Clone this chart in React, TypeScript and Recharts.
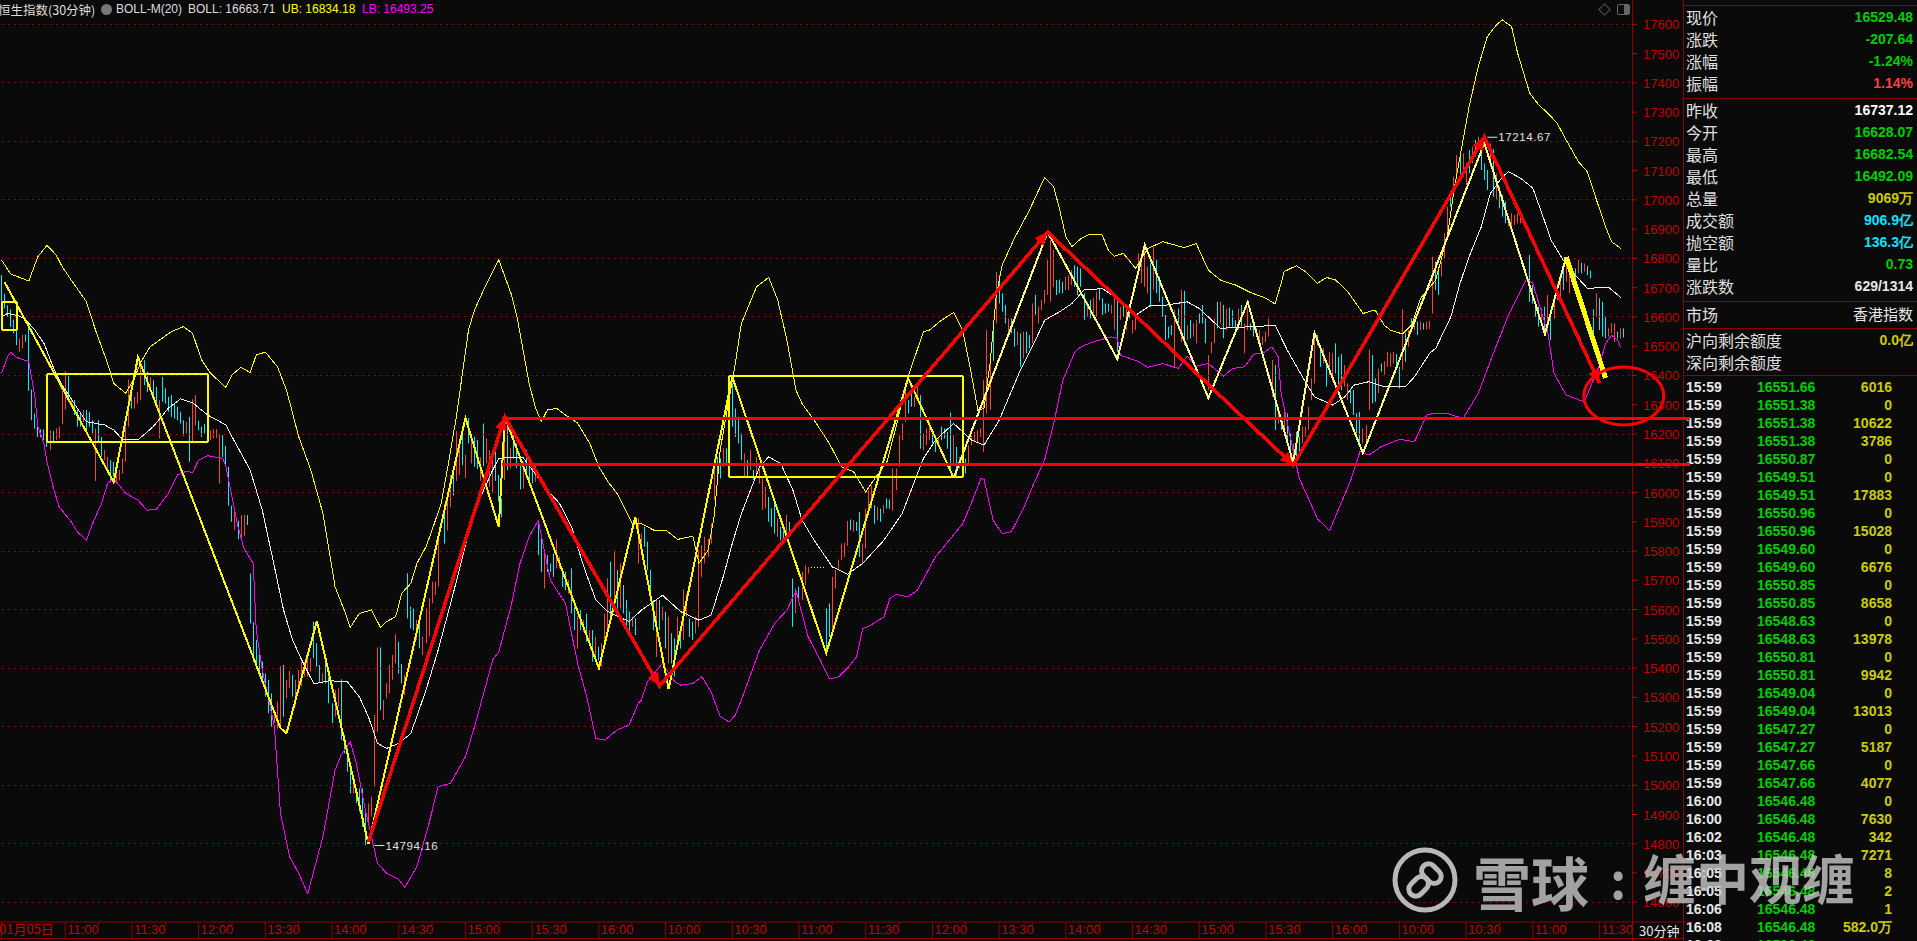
import React from 'react';
import { ComposedChart, Bar, Line, XAxis, YAxis, ReferenceLine, ReferenceDot } from 'recharts';

// candles are [high, low, dir], dir 0 = down, 1 = up, 2 = flat
const candlesA = [
  [16743,16652,0],[16680,16629,0],[16640,16601,0],[16626,16566,0],[16591,16544,0],[16572,16504,0],[16527,16481,1],[16538,16492,1],[16540,16515,0],[16583,16348,0],
  [16352,16247,0],[16270,16219,0],[16238,16190,0],[16216,16190,0],[16216,16179,0],[16196,16156,0],[16213,16145,1],[16210,16173,0],[16219,16179,1],[16225,16185,1],
  [16348,16234,1],[16415,16284,1],[16398,16310,0],[16322,16291,1],[16316,16265,0],[16284,16225,0],[16270,16225,0],[16282,16242,1],[16282,16213,0],[16276,16225,0],
  [16247,16202,0],[16219,16040,1],[16247,16173,0],[16190,16122,0],[16145,16111,1],[16122,16077,1],[16111,16042,0],[16105,16054,0],[16068,16031,1],[16077,16042,1],
  [16116,16065,1],[16225,16105,1],[16386,16225,1],[16367,16287,0],[16327,16287,1],[16344,16304,1],[16435,16316,1],[16452,16367,0],[16413,16344,0],[16395,16344,1],
  [16384,16316,0],[16361,16304,0],[16316,16185,1],[16395,16310,0],[16356,16304,0],[16327,16276,0],[16333,16259,0],[16304,16253,0],[16293,16247,0],[16276,16236,0],
  [16247,16194,0],[16242,16202,1],[16259,16105,0],[16319,16173,1],[16333,16230,1],[16245,16213,0],[16225,16190,0],[16234,16202,0],[16211,16173,0],[16213,16179,1],
  [16217,16185,1],[16217,16187,1],[16202,16031,1],[16196,16122,0],[16159,16088,0],[16088,15955,0],[15955,15900,0],[15934,15872,1],[15904,15841,0],[15923,15838,1],
  [15923,15852,1],[15923,15889,0],
];
const candlesB = [
  [15724,15553,0],[15557,15422,0],[15496,15405,0],[15448,15371,0],[15422,15360,0],[15382,15303,0],[15360,15246,0],[15314,15200,0],[15251,15212,1],[15286,15194,1],
  [15407,15200,1],[15411,15234,0],[15360,15297,1],[15391,15331,1],[15377,15303,0],[15360,15272,1],[15394,15337,1],[15422,15337,1],[15422,15371,1],[15439,15371,1],
  [15434,15388,1],[15559,15434,0],[15485,15405,0],[15411,15354,0],[15382,15348,1],[15434,15348,0],[15371,15280,0],[15280,15212,0],[15325,15234,1],[15331,15269,1],
  [15362,15155,0],[15172,15109,0],[15126,15046,0],[15063,14972,0],[15007,14972,1],[14984,14938,0],[14989,14910,0],[14989,14858,0],[14904,14796,0],[14938,14870,1],
  [14961,14893,1],[15240,14995,1],[15471,15183,1],[15471,15257,0],[15291,15223,1],[15348,15297,1],[15411,15314,1],[15445,15360,1],[15516,15417,1],[15491,15382,0],
  [15414,15348,0],[15377,15308,1],[15724,15570,0],[15610,15536,0],[15604,15530,0],[15565,15496,1],[15559,15468,0],[15508,15445,1],[15604,15485,1],[15639,15508,1],
  [15696,15622,1],[15696,15650,1],[15838,15679,1],
];
const candlesC = [
  [15960,15826,0],[15990,15870,1],[16060,15950,1],[16075,15990,0],[16210,16040,1],[16174,16060,1],[16208,16094,0],[16130,16050,1],[16254,16168,0],[16180,16100,1],
  [16191,16088,0],[16180,16080,0],[16120,16040,1],[16236,16090,0],[16185,16100,1],[16145,16020,1],[16120,16000,1],[16180,16040,0],[16060,15970,0],[15980,15915,0],
  [16202,16043,1],[16248,16077,0],[16151,16083,1],[16202,16117,0],[16168,16083,0],[16100,16011,0],[16105,16014,1],[16145,16054,0],[16117,16043,0],[16094,16031,0],
  [16100,16037,1],[15900,15786,0],[15849,15729,0],[15792,15672,1],[15786,15729,0],[15758,15729,0],[15792,15712,0],[15840,15741,1],[15781,15741,1],[15741,15678,0],
  [15729,15667,0],[15701,15655,1],[15741,15587,0],[15610,15530,0],[15576,15467,1],[15598,15530,0],[15564,15524,1],[15587,15490,0],[15530,15485,1],[15530,15422,0],
  [15507,15439,1],[15473,15428,0],[15485,15405,1],[15587,15473,1],[15707,15530,1],[15764,15576,0],[15803,15633,1],[15735,15604,0],[15758,15604,1],[15684,15587,0],
  [15633,15530,0],[15593,15530,0],[15576,15541,1],[15570,15513,0],[15912,15758,1],[15860,15786,1],[15883,15815,0],[15832,15735,0],[15735,15661,0],[15633,15530,0],
  [15633,15439,1],[15633,15530,0],[15610,15564,1],[15593,15467,0],[15576,15416,1],[15519,15416,0],[15502,15371,0],[15576,15473,1],[15541,15467,0],[15669,15496,1],
  [15655,15576,1],[15570,15507,0],[15559,15496,0],[15576,15519,1],[15803,15541,1],[15820,15712,1],[15849,15758,1],[15843,15781,1],[15895,15826,1],[16111,15974,1],
  [16122,16031,0],[16117,16048,0],[16151,16088,1],[16151,16099,0],[16396,16270,0],[16373,16225,0],[16287,16190,0],[16259,16168,0],[16202,16111,0],[16134,16054,1],
  [16111,16054,0],[16145,16077,1],[16077,16043,0],[16122,16065,1],[16082,16031,1],[16048,15940,1],[16020,15946,1],[15985,15900,0],[15946,15883,0],[15963,15860,0],
  [15911,15849,1],[15883,15837,0],[15870,15840,0],[15923,15849,1],[15900,15860,0],[15706,15541,0],[15672,15587,1],[15678,15632,0],[15729,15632,1],[15752,15684,1],
  [15746,15723,1],[15746,15743,2],[15746,15743,2],[15746,15743,2],[15746,15743,2],[15746,15743,2],
];
const candlesD = [
  [15604,15456,0],[15621,15507,0],[15712,15530,1],[15735,15672,1],[15771,15735,1],[15826,15769,1],[15828,15780,1],[15903,15818,1],[15908,15871,0],[15906,15866,1],
  [15900,15869,0],[15934,15780,0],[15826,15755,1],[15945,15809,1],[16008,15940,1],[16025,15945,1],[15957,15894,0],[15951,15906,1],[15945,15900,0],[15957,15928,1],
  [15980,15945,0],[15976,15945,0],[16082,15938,1],[16082,16008,1],[16196,16088,1],[16236,16179,1],[16350,16242,1],[16316,16270,0],[16350,16293,0],[16327,16293,1],
  [16361,16327,1],[16333,16150,0],[16202,16145,1],[16219,16162,1],[16242,16179,1],[16213,16168,0],[16196,16139,0],[16190,16162,1],[16225,16179,0],[16219,16185,0],
  [16207,16150,0],[16273,16071,0],[16196,16099,1],[16156,16059,0],[16122,16082,1],[16139,16094,0],[16116,16065,0],[16162,16099,1],[16196,16162,1],[16207,16173,1],
  [16213,16168,1],[16219,16190,1],[16384,16139,1],[16555,16270,1],[16475,16282,1],[16560,16450,0],[16754,16578,1],
];
const candlesE = [
  [16743,16646,0],[16681,16618,0],[16641,16578,0],[16595,16533,1],[16595,16544,0],[16561,16498,0],[16550,16504,1],[16544,16430,0],[16550,16458,1],[16550,16476,0],
  [16538,16493,0],[16646,16510,1],[16675,16607,0],[16635,16578,1],[16658,16624,1],[16692,16646,1],[16795,16675,1],[16863,16652,1],[16829,16703,1],[16726,16675,0],
  [16728,16681,0],[16720,16681,0],[16738,16692,1],[16743,16692,1],[16760,16709,1],[16777,16703,0],[16772,16675,0],[16766,16703,0],[16681,16590,0],[16652,16601,1],
  [16658,16595,0],[16664,16612,1],[16686,16601,1],[16698,16658,0],[16664,16607,0],[16646,16612,0],[16646,16618,0],[16641,16612,1],[16681,16555,1],[16664,16481,0],
  [16635,16590,1],[16641,16601,0],[16635,16555,1],[16641,16595,0],[16590,16544,1],[16612,16555,1],[16817,16749,1],[16795,16715,1],[16829,16703,1],[16772,16681,1],
  [16783,16635,0],[16840,16692,1],[16795,16681,0],[16738,16652,0],[16669,16601,0],[16607,16521,0],[16567,16527,0],[16572,16538,0],[16624,16430,1],[16629,16578,0],
  [16692,16515,1],[16689,16504,0],[16572,16521,1],[16589,16527,0],[16578,16533,1],[16589,16510,1],[16612,16578,0],[16641,16578,0],[16595,16510,0],[16470,16350,1],
  [16515,16476,1],[16595,16510,1],[16652,16561,0],[16652,16578,1],[16641,16527,0],[16629,16555,1],[16632,16567,0],[16624,16567,0],[16589,16561,0],[16629,16555,1],
  [16641,16567,0],[16578,16476,1],[16629,16555,1],[16578,16555,0],[16572,16533,0],[16561,16533,0],[16555,16510,1],[16533,16504,1],[16550,16515,1],[16595,16533,1],
  [16453,16327,1],[16436,16214,0],[16293,16236,1],[16259,16214,0],[16288,16208,1],[16271,16168,0],[16202,16100,0],[16168,16100,1],[16208,16111,0],[16191,16122,0],
  [16225,16168,1],[16225,16191,1],[16293,16214,1],[16390,16316,1],[16533,16373,1],[16538,16504,0],
];
const candlesF = [
  [16498,16430,0],[16493,16441,1],[16447,16362,0],[16481,16396,1],[16476,16379,1],[16510,16407,0],[16464,16356,0],[16473,16350,0],[16436,16362,1],[16373,16316,1],
  [16350,16305,0],[16350,16265,0],[16271,16202,0],[16276,16168,0],[16219,16168,1],[16231,16168,1],[16489,16282,1],[16470,16305,0],[16390,16310,0],[16424,16339,1],
  [16441,16413,0],[16449,16402,1],[16481,16430,1],[16476,16430,1],[16481,16441,1],[16473,16430,0],[16430,16356,0],[16626,16419,1],[16544,16447,0],[16555,16498,1],
  [16595,16555,0],[16589,16555,1],[16584,16538,0],[16584,16555,1],[16580,16557,0],[16584,16557,1],[16587,16559,1],
];
const candlesG = [
  [16806,16612,1],[16789,16692,0],[16772,16675,0],[16789,16738,1],[16886,16800,1],[16977,16886,1],[17022,16977,0],[17079,17011,1],[17153,17079,1],[17148,17074,0],
  [17159,17079,1],[17125,17051,1],[17170,17091,0],[17182,17125,1],[17205,17148,0],[17216,17182,1],[17182,17102,0],[17125,17068,0],[17102,17034,0],[17193,17113,1],
  [17173,17011,0],[17091,17000,1],[17045,16971,0],[17017,16943,0],[16994,16920,0],[16943,16909,1],[16954,16909,1],[16948,16914,1],[16954,16920,1],[16962,16920,1],
];
const candlesH = [
  [16812,16652,0],[16709,16646,0],[16646,16601,0],[16635,16567,0],[16629,16578,1],[16635,16544,0],[16675,16544,1],[16624,16521,0],[16675,16595,1],[16715,16658,1],
  [16749,16669,1],[16766,16692,0],[16789,16720,1],[16772,16681,1],[16766,16715,0],[16766,16726,0],[16795,16749,1],[16785,16749,0],[16783,16755,1],[16774,16743,0],
  [16758,16732,0],[16626,16489,0],[16681,16601,1],[16664,16555,0],[16652,16533,0],[16599,16527,0],[16561,16533,1],[16578,16544,1],[16578,16515,1],[16550,16527,0],
  [16561,16527,1],[16561,16530,0],
];
const candleSections: [number, number[][]][] = [[0, candlesA], [82, candlesB], [146, candlesC], [272, candlesD], [329, candlesE], [435, candlesF], [472, candlesG], [504, candlesH]];

// Bollinger bands, read as [bar, price] at the bends of each line
const upperBand = [
  [0,16795],[3,16747],[9,16723],[12,16806],[15,16845],[18,16812],[20,16772],[23,16726],[28,16652],[31,16555],[35,16441],[37,16373],[41,16339],[44,16396],[46,16447],[49,16498],[56,16550],[60,16567],[63,16544],[66,16453],[69,16407],[74,16359],[76,16402],[79,16428],[82,16410],[84,16470],[87,16480],[91,16430],[94,16350],[98,16191],[102,16077],
  [106,15929],[110,15678],[113,15599],[115,15539],[118,15587],[122,15599],[125,15539],[127,15559],[130,15576],[132,15656],[135,15690],[137,15758],[140,15815],[142,15872],[145,15963],[147,16077],[150,16259],[152,16407],[154,16555],[156,16624],[160,16715],[164,16795],[168,16681],[170,16601],[172,16487],[174,16373],[176,16293],[178,16242],
  [180,16282],[183,16288],[186,16265],[190,16237],[194,16168],[197,16088],[200,16037],[203,15997],[208,15895],[211,15894],[215,15872],[219,15872],[223,15840],[228,15851],[230,15758],[233,15803],[235,15917],[237,16145],[242,16441],[244,16578],[249,16703],[253,16735],[256,16657],[259,16521],[262,16350],[264,16304],[268,16247],[273,16168],[277,16088],[281,16071],[285,16002],[288,16048],[292,16105],[295,16225],[299,16396],[304,16549],[306,16555],[310,16589],[314,16615],[317,16555],[320,16396],[322,16282],[324,16287],[326,16441],[328,16669],[330,16777],[334,16868],[339,16965],[344,17077],[347,17045],[349,16965],[351,16874],[353,16840],[356,16868],[359,16883],[363,16880],[365,16828],[367,16808],[370,16817],[374,16766],[378,16834],[383,16857],[390,16837],[394,16851],[398,16760],[402,16726],[407,16709],[412,16683],[417,16664],[420,16644],[422,16715],[423,16755],[427,16775],[430,16755],[434,16715],[437,16735],[440,16726],[444,16686],[449,16612],[453,16624],[456,16572],[458,16555],[462,16542],[465,16572],[468,16664],[473,16726],[477,16886],[479,17034],[482,17205],[484,17319],[487,17455],[490,17558],[493,17598],[495,17615],[498,17592],[500,17501],[504,17364],[507,17324],[510,17296],[513,17262],[516,17205],[520,17131],[523,17096],[526,17000],[529,16908],[531,16857],[534,16834],
];
const midBand = [
  [0,16601],[2,16612],[6,16603],[8,16590],[11,16555],[14,16510],[17,16430],[20,16367],[25,16288],[28,16242],[34,16231],[37,16214],[40,16180],[45,16180],[50,16225],[55,16288],[59,16320],[63,16307],[68,16265],[74,16231],[76,16191],[82,16077],
  [86,15940],[90,15747],[93,15599],[96,15496],[99,15428],[103,15346],[108,15357],[114,15354],[118,15302],[121,15234],[124,15143],[127,15126],[131,15143],[135,15177],[140,15325],[144,15462],[149,15656],[154,15861],[157,15963],[162,16077],[164,16117],[168,16120],[172,16120],[180,16009],[184,15963],[188,15883],[192,15747],[196,15633],[200,15593],[207,15559],[211,15598],[218,15649],[224,15593],[230,15564],[234,15581],[238,15712],[241,15826],[244,15928],[250,16088],[253,16122],[257,16099],[261,16008],[264,15906],[268,15837],[274,15746],[279,15721],[284,15758],[291,15837],[297,15928],[304,16116],[308,16179],[314,16236],[320,16179],[324,16162],[329,16247],[336,16418],[341,16521],[344,16589],[349,16618],[353,16646],[357,16692],[363,16697],[368,16663],[374,16606],[379,16640],[384,16640],[391,16652],[395,16629],[399,16590],[402,16561],[408,16565],[414,16567],[420,16572],[424,16487],[429,16396],[433,16327],[439,16299],[443,16327],[446,16367],[451,16379],[456,16362],[463,16362],[466,16396],[471,16476],[473,16493],[478,16601],[481,16715],[484,16806],[488,16908],[491,17022],[495,17079],[497,17096],[501,17074],[505,17040],[508,16954],[511,16863],[515,16795],[519,16743],[523,16698],[530,16701],[534,16667],
];
const lowerBand = [
  [0,16407],[2,16464],[3,16479],[5,16462],[9,16447],[11,16327],[12,16225],[14,16168],[15,16105],[17,16020],[19,15951],[23,15900],[25,15866],[28,15837],[30,15894],[33,15963],[35,16031],[37,16048],[41,15997],[45,15974],[48,15940],[51,15942],[55,15997],[58,16060],[61,16073],[63,16068],[65,16111],[68,16126],[73,16117],[74,16088],[76,15986],[78,15883],[80,15809],[83,15758],
  [84,15530],[86,15394],[90,15200],[92,14904],[95,14756],[98,14699],[101,14630],[106,14824],[110,15052],[112,15103],[115,15149],[117,15075],[120,14915],[124,14733],[127,14699],[131,14678],[133,14651],[137,14722],[141,14870],[144,14995],[148,15006],[153,15097],[156,15200],[162,15428],[164,15456],[168,15610],[171,15758],[174,15849],[177,15904],[181,15701],[186,15621],[188,15519],[190,15416],[193,15302],[196,15160],[199,15154],[203,15189],[207,15206],[210,15280],[211,15291],[213,15354],[218,15416],[222,15354],[224,15342],[228,15348],[231,15371],[234,15319],[235,15291],[237,15235],[240,15216],[242,15240],[244,15291],[250,15462],[255,15553],[259,15598],[262,15665],[264,15587],[266,15507],[270,15428],[273,15363],[276,15370],[279,15400],[282,15439],[284,15535],[286,15543],[291,15575],[293,15638],[295,15652],[299,15644],[302,15666],[308,15780],[317,15894],[320,15968],[323,16048],[324,16046],[327,15906],[330,15860],[333,15866],[337,15945],[340,16020],[344,16111],[347,16236],[350,16384],[354,16481],[356,16498],[360,16515],[366,16532],[368,16527],[369,16470],[375,16447],[378,16428],[383,16441],[388,16424],[391,16466],[394,16432],[398,16441],[403,16398],[406,16424],[410,16430],[413,16473],[416,16476],[419,16498],[421,16464],[422,16339],[425,16191],[428,16048],[432,15957],[434,15910],[438,15870],[441,15945],[445,16043],[448,16140],[451,16128],[455,16157],[461,16182],[466,16174],[470,16265],[472,16270],[477,16270],[482,16253],[487,16339],[492,16476],[497,16607],[503,16732],[505,16715],[510,16544],[512,16407],[516,16333],[522,16310],[524,16362],[527,16436],[529,16510],[531,16537],[533,16521],[534,16496],
];

// hand drawn annotations
const yellowZig = [[1,16719],[37,16036],[45,16463],[92,15195],[94,15178],[104,15561],[121,14799],[153,16255],[164,15882],[166,16258],[197,15400],[209,15916],[220,15329],[241,16395],[272,15452],[299,16391],[314,16050]];
const paleZig = [[314,16050],[345,16890],[368,16456],[377,16846],[398,16323],[411,16651],[426,16101],[433,16545],[449,16135],[489,17194],[509,16542],[516,16805]];
const thickZig = [[516,16805],[529,16391]];
const redZig = [[121,14806],[166,16258],[217,15339],[345,16890],[426,16094],[489,17215],[527,16374]];
const redLevels = [16254, 16097];
const yellowBoxes = [[0,5,16651,16555],[15,68,16405,16174],[240,317,16398,16053]];

const priceTicks = [14600,14700,14800,14900,15000,15100,15200,15300,15400,15500,15600,15700,15800,15900,16000,16100,16200,16300,16400,16500,16600,16700,16800,16900,17000,17100,17200,17300,17400,17500,17600];
const gridPrices = priceTicks.filter((p) => p % 200 === 0);
const timeLabels = ['01月05日','11:00','11:30','12:00','13:30','14:00','14:30','15:00','15:30','16:00','10:00','10:30','11:00','11:30','12:00','13:30','14:00','14:30','15:00','15:30','16:00','10:00','10:30','11:00','11:30'];

const quoteLabels = ['现价','涨跌','涨幅','振幅','昨收','今开','最高','最低','总量','成交额','抛空额','量比','涨跌数','市场','沪向剩余额度','深向剩余额度'];
const quoteValues = ['16529.48','-207.64','-1.24%','1.14%','16737.12','16628.07','16682.54','16492.09','9069万','906.9亿','136.3亿','0.73','629/1314','香港指数','0.0亿',''];
const quoteColors = ['#00cc00','#00cc00','#00cc00','#ff4040','#ffffff','#00cc00','#00cc00','#00cc00','#cccc00','#10e0ff','#10e0ff','#00cc00','#e8e8e8','#e8e8e8','#cccc00',''];
const quoteRows = [17,39,61,83,110,132,154,176,198,220,242,264,286,314,340,362];

const tradeTimes = ['15:59','15:59','15:59','15:59','15:59','15:59','15:59','15:59','15:59','15:59','15:59','15:59','15:59','15:59','15:59','15:59','15:59','15:59','15:59','15:59','15:59','15:59','15:59','16:00','16:00','16:02','16:03','16:05','16:05','16:06','16:08'];
const tradePrices = ['16551.66','16551.38','16551.38','16551.38','16550.87','16549.51','16549.51','16550.96','16550.96','16549.60','16549.60','16550.85','16550.85','16548.63','16548.63','16550.81','16550.81','16549.04','16549.04','16547.27','16547.27','16547.66','16547.66','16546.48','16546.48','16546.48','16546.48','16546.48','16546.48','16546.48','16546.48'];
const tradeVolumes = ['6016','0','10622','3786','0','0','17883','0','15028','0','6676','0','8658','0','13978','0','9942','0','13013','0','5187','0','4077','0','7630','342','7271','8','2','1','582.0万'];

const BAR_SLOTS = 558;
const AXIS_BAR = 538;
const rows: any[] = Array.from({ length: BAR_SLOTS }, (_, idx) => ({ idx }));
candleSections.forEach(([start, list]) => {
  list.forEach(([high, low, dir], k) => {
    rows[start + k].range = [low, high];
    rows[start + k].dir = dir;
  });
});
const addSeries = (key: string, pts: number[][]) => pts.forEach(([i, v]) => { rows[i][key] = v; });
addSeries('ub', upperBand);
addSeries('mid', midBand);
addSeries('lb', lowerBand);
addSeries('yz', yellowZig);
addSeries('pz', paleZig);
addSeries('tz', thickZig);
addSeries('rz', redZig);

const tickBars = Array.from({ length: 49 }, (_, k) => (k === 0 ? 0 : 10 + 11 * k));
const BG = '#0a0a0a';
const RED_DIM = '#8a0000';
const UI_FONT = '"Liberation Sans", Arial, sans-serif';
const CJK_FONT = '"Noto Sans CJK SC", "Liberation Sans", sans-serif';
const candleColors = ['#00f0ff', '#ff4433', '#ffffff'];

const CandleShape = (p: any) => {
  if (p.height == null || p.payload.range == null) return null;
  return <rect x={Math.round(p.x)} y={p.y} width={1} height={Math.max(1, Math.abs(p.height))} fill={candleColors[p.payload.dir]} />;
};

const PriceTick = ({ y, payload }: any) => (
  <g>
    <line x1={1632} x2={1637} y1={y} y2={y} stroke="#c00000" />
    <text x={1643} y={y + 5} fontSize={13} fontFamily={UI_FONT} fill="#c00000">{payload.value}</text>
  </g>
);

const TimeTick = ({ x, y, payload }: any) => {
  const k = payload.value === 0 ? 0 : (payload.value - 21) / 22 + 1;
  const major = Number.isInteger(k);
  if (!major) return <line x1={x} x2={x} y1={y - 8} y2={y - 5} stroke={RED_DIM} />;
  return (
    <g>
      <line x1={x} x2={x} y1={y - 8} y2={y + 8} stroke={RED_DIM} />
      <text x={payload.value === 0 ? -1 : x + 2} y={y + 4} fontSize={13} fontFamily={payload.value === 0 ? CJK_FONT : UI_FONT} fill="#c00000">{timeLabels[k]}</text>
    </g>
  );
};

const arrowHead = (angle: number) => (p: any) => (
  <polygon points="0,0 -13,-6 -13,6" fill="#ff0000" transform={`translate(${p.cx},${p.cy}) rotate(${angle})`} />
);

const extremeLabel = (text: string) => (p: any) => (
  <g>
    <line x1={p.cx} x2={p.cx + 10} y1={p.cy} y2={p.cy} stroke="#e0e0e0" />
    <text x={p.cx + 11} y={p.cy + 4} fontSize={11.5} letterSpacing={0.6} fontFamily={UI_FONT} fill="#e0e0e0">{text}</text>
  </g>
);

const abs = (left: number, top: number, extra: React.CSSProperties = {}): React.CSSProperties => ({ position: 'absolute', left, top, whiteSpace: 'nowrap', ...extra });
const hLine = (y: number, x1: number, x2: number) => <div key={`${y}-${x1}`} style={abs(x1, y, { width: x2 - x1, height: 1, background: RED_DIM })} />;
const vLine = (x: number) => <div key={`v${x}`} style={abs(x, 0, { width: 1, height: 941, background: RED_DIM })} />;

export default function App() {
  return (
    <div style={{ position: 'fixed', left: 0, top: 0, width: 1917, height: 941, background: BG, overflow: 'hidden' }}>
      <style>{'body{margin:0;background:#0a0a0a} .recharts-line-curve,.recharts-reference-line-line{shape-rendering:crispEdges}'}</style>
      {vLine(1632)}
      {vLine(1683)}
      {[5, 98, 301, 328, 375].map((y) => hLine(y, 1683, 1917))}
      {hLine(938, 0, 1683)}

      <div style={abs(-2, 1, { font: `12.5px ${CJK_FONT}`, color: '#dddddd', lineHeight: '17px' })}>恒生指数(30分钟)</div>
      <div style={abs(101, 4, { width: 11, height: 11, borderRadius: 6, background: '#777777' })} />
      <div style={abs(116, 2, { font: `12px ${UI_FONT}`, color: '#dddddd', lineHeight: '15px' })}>BOLL-M(20)</div>
      <div style={abs(188, 2, { font: `12px ${UI_FONT}`, color: '#dddddd', lineHeight: '15px' })}>BOLL: 16663.71</div>
      <div style={abs(282, 2, { font: `12px ${UI_FONT}`, color: '#ffff00', lineHeight: '15px' })}>UB: 16834.18</div>
      <div style={abs(362, 2, { font: `12px ${UI_FONT}`, color: '#ff00ff', lineHeight: '15px' })}>LB: 16493.25</div>
      <div style={abs(1600, 5, { width: 7, height: 7, border: '1px solid #555555', transform: 'rotate(45deg)' })} />
      <div style={abs(1617, 4, { width: 11, height: 9, border: '1px solid #666666', borderRadius: 2, background: 'linear-gradient(90deg,#0a0a0a 55%,#666666 55%)' })} />

      {quoteLabels.map((label, k) => (
        <div key={label} style={abs(1686, quoteRows[k] - 11, { font: `16px ${CJK_FONT}`, color: '#e0e0e0', lineHeight: '22px' })}>{label}</div>
      ))}
      {quoteValues.map((value, k) => (
        <div key={k} style={abs(1700, quoteRows[k] - 10, { width: 213, textAlign: 'right', font: `${k === 13 ? 'normal 15px' : 'bold 14px'} ${k === 13 ? CJK_FONT : UI_FONT}`, color: quoteColors[k], lineHeight: '20px' })}>{value}</div>
      ))}
      {tradeTimes.map((time, k) => (
        <React.Fragment key={k}>
          <div style={abs(1686, 378 + 18 * k, { font: `bold 14px ${UI_FONT}`, color: '#e8e8e8', lineHeight: '18px' })}>{time}</div>
          <div style={abs(1757, 378 + 18 * k, { font: `bold 14px ${UI_FONT}`, color: '#00cc00', lineHeight: '18px' })}>{tradePrices[k]}</div>
          <div style={abs(1800, 378 + 18 * k, { width: 92, textAlign: 'right', font: `bold 14px ${UI_FONT}`, color: '#cccc00', lineHeight: '18px' })}>{tradeVolumes[k]}</div>
        </React.Fragment>
      ))}
      <div style={abs(1686, 936, { font: `bold 14px ${UI_FONT}`, color: '#e8e8e8', lineHeight: '18px' })}>16:08</div>
      <div style={abs(1757, 936, { font: `bold 14px ${UI_FONT}`, color: '#00cc00', lineHeight: '18px' })}>16529.48</div>
      <div style={abs(1639, 923, { font: `13px ${CJK_FONT}`, color: '#e8e8e8', lineHeight: '16px' })}>30分钟</div>

      <div style={{ position: 'absolute', left: 0, top: 0 }}>
        <ComposedChart width={1917} height={941} data={rows} margin={{ top: 0, right: 225, bottom: 0, left: 0 }} barCategoryGap={0}>
          {gridPrices.map((p) => (
            <ReferenceLine key={p} segment={[{ x: 0, y: p }, { x: AXIS_BAR, y: p }]} stroke="#8a0000" strokeDasharray="2 4" />
          ))}
          <XAxis dataKey="idx" type="category" height={19} ticks={tickBars} interval={0} axisLine={{ stroke: RED_DIM }} tickLine={false} tick={<TimeTick />} />
          <YAxis orientation="right" mirror type="number" domain={[14532.7, 17683]} allowDataOverflow ticks={priceTicks} interval={0} axisLine={false} tickLine={false} tick={<PriceTick />} />
          <Bar dataKey="range" barSize={1} shape={<CandleShape />} isAnimationActive={false} />
          <Line dataKey="ub" stroke="#ffff00" strokeWidth={1} dot={false} activeDot={false} connectNulls isAnimationActive={false} />
          <Line dataKey="mid" stroke="#f0f0f0" strokeWidth={1} dot={false} activeDot={false} connectNulls isAnimationActive={false} />
          <Line dataKey="lb" stroke="#ff00ff" strokeWidth={1} dot={false} activeDot={false} connectNulls isAnimationActive={false} />
          <Line dataKey="yz" stroke="#ffff00" strokeWidth={2} dot={false} activeDot={false} connectNulls isAnimationActive={false} />
          <Line dataKey="pz" stroke="#ffff80" strokeWidth={2} dot={false} activeDot={false} connectNulls isAnimationActive={false} />
          <Line dataKey="tz" stroke="#ffff00" strokeWidth={5} dot={false} activeDot={false} connectNulls isAnimationActive={false} />
          {yellowBoxes.flatMap(([x1, x2, y1, y2]) => [
            <ReferenceLine key={`${x1}a`} segment={[{ x: x1, y: y1 }, { x: x2, y: y1 }]} stroke="#ffff00" strokeWidth={2} />,
            <ReferenceLine key={`${x1}b`} segment={[{ x: x1, y: y2 }, { x: x2, y: y2 }]} stroke="#ffff00" strokeWidth={2} />,
            <ReferenceLine key={`${x1}c`} segment={[{ x: x1, y: y1 }, { x: x1, y: y2 }]} stroke="#ffff00" strokeWidth={2} />,
            <ReferenceLine key={`${x1}d`} segment={[{ x: x2, y: y1 }, { x: x2, y: y2 }]} stroke="#ffff00" strokeWidth={2} />,
          ])}
          <Line dataKey="rz" stroke="#ff0000" strokeWidth={3.5} dot={false} activeDot={false} connectNulls isAnimationActive={false} />
          {redLevels.map((p) => (
            <ReferenceLine key={p} segment={[{ x: 165, y: p }, { x: 557, y: p }]} stroke="#ff0000" strokeWidth={3} />
          ))}
          <ReferenceDot x={166} y={16258} ifOverflow="visible" shape={arrowHead(-72)} />
          <ReferenceDot x={217} y={15339} ifOverflow="visible" shape={arrowHead(60)} />
          <ReferenceDot x={345} y={16890} ifOverflow="visible" shape={arrowHead(-49)} />
          <ReferenceDot x={426} y={16094} ifOverflow="visible" shape={arrowHead(44)} />
          <ReferenceDot x={489} y={17215} ifOverflow="visible" shape={arrowHead(-60)} />
          <ReferenceDot x={527} y={16374} ifOverflow="visible" shape={arrowHead(65)} />
          <ReferenceDot x={123} y={14794} ifOverflow="visible" shape={extremeLabel('14794.16')} />
          <ReferenceDot x={490} y={17214} ifOverflow="visible" shape={extremeLabel('17214.67')} />
          <ReferenceDot x={535} y={16330} ifOverflow="visible" shape={(p: any) => <ellipse cx={p.cx} cy={p.cy} rx={40} ry={29} fill="none" stroke="#ff0000" strokeWidth={3} />} />
        </ComposedChart>
      </div>

      <svg width={70} height={70} style={abs(1391, 845)}>
        <circle cx={34} cy={35} r={30} fill="none" stroke="#b8b8b8" strokeWidth={5} />
        <g fill="none" stroke="#b8b8b8" strokeWidth={5} transform="rotate(-45 34 35)">
          <rect x={14} y={28} width={22} height={14} rx={7} />
          <rect x={32} y={28} width={22} height={14} rx={7} transform="rotate(90 43 35)" />
        </g>
      </svg>
      <div style={abs(1473, 846, { font: `bold 58px ${CJK_FONT}`, color: 'rgba(200,200,200,0.8)', lineHeight: '70px' })}>雪球</div>
      <div style={abs(1610, 842, { font: `bold 50px ${CJK_FONT}`, color: 'rgba(200,200,200,0.8)', lineHeight: '70px' })}>:</div>
      <div style={abs(1643, 842, { font: `bold 53px ${CJK_FONT}`, color: 'rgba(200,200,200,0.8)', lineHeight: '70px' })}>缠中观缠</div>
    </div>
  );
}
